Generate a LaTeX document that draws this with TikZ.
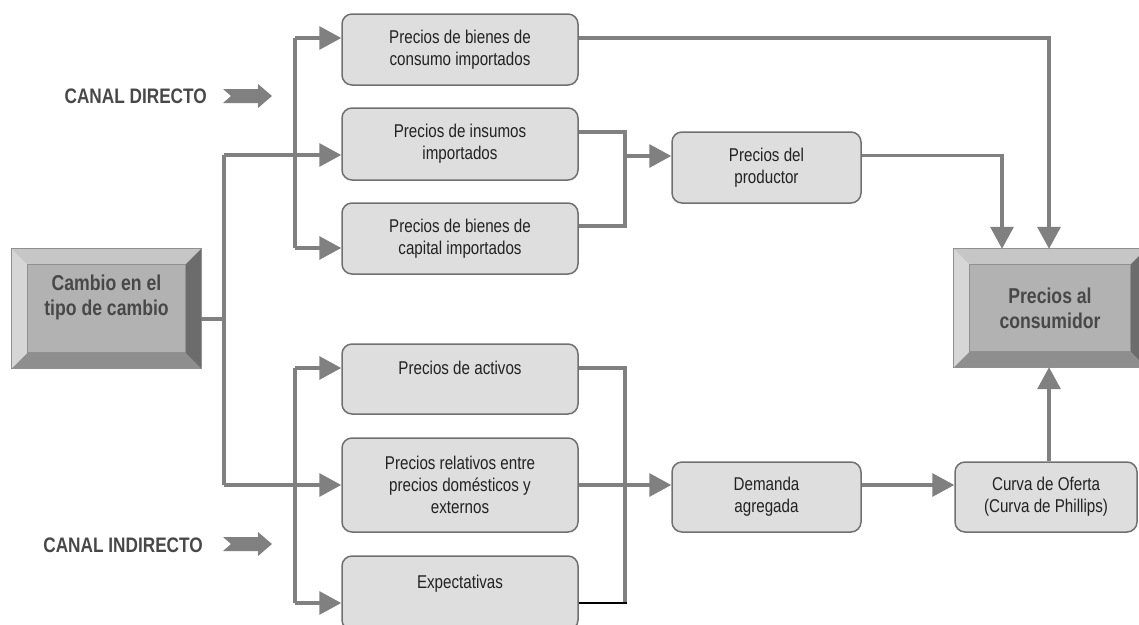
\documentclass[tikz,border=0pt]{standalone}
\usepackage{fontspec}
\setmainfont{Liberation Sans}[FakeStretch=0.82]
\usetikzlibrary{arrows.meta,calc}
\definecolor{lnc}{HTML}{808080}
\definecolor{boxfill}{HTML}{DEDEDE}
\definecolor{boxline}{HTML}{707070}
\definecolor{bvcenter}{HTML}{B2B2B2}
\definecolor{bvtop}{HTML}{C6C6C6}
\definecolor{bvleft}{HTML}{D6D6D6}
\definecolor{bvright}{HTML}{6C6C6C}
\definecolor{bvbottom}{HTML}{8E8E8E}
\definecolor{bvline}{HTML}{909090}
\definecolor{txt}{HTML}{222222}
\definecolor{btxt}{HTML}{484848}
\newcommand\mkbevel[2]{%
  \fill[bvtop] (#1.north west) -- (#1.north east) -- ($(#1.north east)+(-#2,#2)$) -- ($(#1.north west)+(#2,#2)$) -- cycle;
  \fill[bvbottom] (#1.south west) -- (#1.south east) -- ($(#1.south east)+(-#2,-#2)$) -- ($(#1.south west)+(#2,-#2)$) -- cycle;
  \fill[bvleft] (#1.north west) -- (#1.south west) -- ($(#1.south west)+(#2,-#2)$) -- ($(#1.north west)+(#2,#2)$) -- cycle;
  \fill[bvright] (#1.north east) -- (#1.south east) -- ($(#1.south east)+(-#2,-#2)$) -- ($(#1.north east)+(-#2,#2)$) -- cycle;
  \draw[bvline, line width=0.8pt] ($(#1.north west)+(#2,#2)$) rectangle ($(#1.south east)+(-#2,-#2)$);
  \draw[bvline, line width=1.2pt] (#1.north west) rectangle (#1.south east);
}
\begin{document}
\begin{tikzpicture}[x=1pt,y=-1pt,
  stepbox/.style={draw=boxline, fill=boxfill, line width=1.5pt, rounded corners=10pt,
    inner sep=0pt, align=center, text=txt, font=\fontsize{18.5}{22}\selectfont},
  bevelbox/.style={fill=bvcenter, inner sep=0pt},
  bigtext/.style={align=center, text=btxt, font=\bfseries\fontsize{21.5}{25}\selectfont},
  canal/.style={text=btxt, font=\bfseries\fontsize{21}{24}\selectfont, inner sep=0pt},
  conn/.style={draw=lnc, line width=3.3pt},
  arr/.style={conn, -{Triangle[length=22pt,width=23pt]}},
  blockarrow/.style={fill=lnc}
]
\useasboundingbox (0,0) rectangle (1139,624);

% bevel boxes
\node[bevelbox, minimum width=189pt, minimum height=119pt] (cambio) at (106.5,308.5) {};
\mkbevel{cambio}{16}
\node[bigtext] (cambiot) at (106.5,297) {Cambio en el\\tipo de cambio};

\node[bevelbox, minimum width=192pt, minimum height=118pt] (cons) at (1050,308) {};
\mkbevel{cons}{16}
\node[bigtext] (const) at (1050,308) {Precios al\\consumidor};

% rounded boxes
\node[stepbox, minimum width=236pt, minimum height=71pt] (b1) at (460,49.5) {Precios de bienes de\\consumo importados};
\node[stepbox, minimum width=236pt, minimum height=72pt] (b2) at (460,144) {Precios de insumos\\importados};
\node[stepbox, minimum width=236pt, minimum height=71pt] (b3) at (460,238.5) {Precios de bienes de\\capital importados};
\node[stepbox, minimum width=236pt, minimum height=70pt] (b4) at (460,379) {Precios de activos\\\mbox{}};
\node[stepbox, minimum width=236pt, minimum height=94pt] (b5) at (460,485) {Precios relativos entre\\precios dom\'esticos y\\externos};
\node[stepbox, minimum width=236pt, minimum height=74pt] (b6) at (460,593) {Expectativas\\\mbox{}};
\node[stepbox, minimum width=189pt, minimum height=71pt] (prod) at (766.5,167.5) {Precios del\\productor};
\node[stepbox, minimum width=189pt, minimum height=70pt] (dem) at (766.5,497) {Demanda\\agregada};
\node[stepbox, minimum width=182pt, minimum height=70pt] (curva) at (1046,497) {Curva de Oferta\\(Curva de Phillips)};

% canal labels
\node[canal, anchor=east] (cdir) at (207,96) {CANAL DIRECTO};
\node[canal, anchor=east] (cind) at (203,545) {CANAL INDIRECTO};
\fill[blockarrow] (223,89) -- (258,89) -- (258,84) -- (272,96) -- (258,108) -- (258,103) -- (223,103) -- (231,96) -- cycle;
\fill[blockarrow] (223,537) -- (258,537) -- (258,532) -- (272,544) -- (258,556) -- (258,551) -- (223,551) -- (231,544) -- cycle;

% coordinates
\coordinate (t0) at (224,319);
\coordinate (t1) at (224,155);
\coordinate (t2) at (224,485);
\coordinate (d1) at (295,38);
\coordinate (d3) at (295,248);
\coordinate (i1) at (295,368);
\coordinate (i3) at (295,603);
\coordinate (j1) at (625,180);
\coordinate (j2) at (625,156);
\coordinate (k1) at (625,500);

% trunk from cambio
\draw[conn] (cambio.east |- t0) -- (t0);
\draw[conn] (t1) -- (t2);
\draw[arr] (t1) -- (b2.west |- t1);
\draw[arr] (t2) -- (b5.west |- t2);

% direct branch
\draw[conn] (d1) -- (d3);
\draw[arr] (d1) -- (b1.west |- d1);
\draw[arr] (d3) -- (b3.west |- d3);

% indirect branch
\draw[conn] (i1) -- (i3);
\draw[arr] (i1) -- (b4.west |- i1);
\draw[arr] (i3) -- (b6.west |- i3);

% to producer
\draw[conn] ([yshift=12pt]b2.east) -| (j1) |- ([yshift=12.5pt]b3.east);
\draw[arr] (j2) -- (prod.west |- j2);

% to consumer
\draw[arr] (b1.east |- d1) -| ([xshift=-1pt]cons.north);
\draw[arr] ([yshift=12pt]prod.east) -| ([xshift=-48pt]cons.north);

% indirect to demand
\draw[conn] ([yshift=11pt]b4.east) -| (k1) -- (k1 |- i3);
\draw[black, line width=1.5pt] (b6.east |- i3) -- ([xshift=1.6pt]k1 |- i3);
\draw[arr] (b5.east) -- (dem.west |- b5.east);
\draw[arr] (dem.east |- b5.east) -- (curva.west |- b5.east);
\draw[arr] ([xshift=-1pt]cons.south |- curva.north) -- ([xshift=-1pt]cons.south);
\end{tikzpicture}
\end{document}
